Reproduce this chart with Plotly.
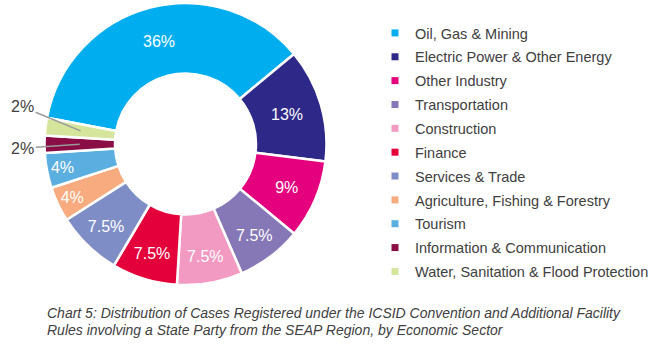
import math
import plotly.graph_objects as go

# ---- data ----
sectors = [
    "Oil, Gas & Mining",
    "Electric Power & Other Energy",
    "Other Industry",
    "Transportation",
    "Construction",
    "Finance",
    "Services & Trade",
    "Agriculture, Fishing & Forestry",
    "Tourism",
    "Information & Communication",
    "Water, Sanitation & Flood Protection",
]
shares = [36, 13, 9, 7.5, 7.5, 7.5, 7.5, 4, 4, 2, 2]
share_labels = ["36%", "13%", "9%", "7.5%", "7.5%", "7.5%", "7.5%", "4%", "4%", "2%", "2%"]
colors = [
    "#00AEEF", "#2E2888", "#E5007D", "#8677B6", "#F29AC2", "#E4003B",
    "#7F8DC7", "#F7AB7E", "#5BAEE0", "#8A0D45", "#D5E59C",
]
outside = [False] * 9 + [True, True]
caption_lines = [
    "Chart 5: Distribution of Cases Registered under the ICSID Convention and Additional Facility",
    "Rules involving a State Party from the SEAP Region, by Economic Sector",
]

FONT = "Arial, Liberation Sans, sans-serif"
W, H = 667, 347
ROT = -79.3
dom_x = [44.5 / W, 326.5 / W]
dom_y = [1 - 285 / H, 1 - 3 / H]

fig = go.Figure()
fig.add_trace(go.Pie(
    labels=sectors,
    values=shares,
    text=share_labels,
    textinfo="text",
    textposition=["none" if o else "inside" for o in outside],
    insidetextorientation="horizontal",
    insidetextfont=dict(color="white", size=16, family=FONT),
    marker=dict(colors=colors, line=dict(color="white", width=2.5)),
    hole=0.5,
    sort=False,
    direction="clockwise",
    rotation=ROT,
    showlegend=False,
    domain=dict(x=dom_x, y=dom_y),
    hoverinfo="label+percent",
))

# legend entries
for i, (s, c) in enumerate(zip(sectors, colors)):
    fig.add_trace(go.Scatter(
        x=[None], y=[None], mode="markers", name=s,
        marker=dict(symbol="square", size=7, color=c),
        legendgroup=f"g{i}", showlegend=True, hoverinfo="skip",
    ))

# leader-line labels for small slices, positioned from the data
cx = (dom_x[0] + dom_x[1]) / 2 * W
cy = (1 - (dom_y[0] + dom_y[1]) / 2) * H
R = min((dom_x[1] - dom_x[0]) * W, (dom_y[1] - dom_y[0]) * H) / 2
total = sum(shares)
cum = 0
offsets = {9: (-57, 4), 10: (-58, -24)}
annotations = []
for i, v in enumerate(shares):
    mid = cum + v / 2
    cum += v
    if not outside[i]:
        continue
    ang = math.radians(ROT % 360 + 360 * mid / total)
    r = 0.75 * R
    tx = cx + r * math.sin(ang)
    ty = cy - r * math.cos(ang)
    ax, ay = offsets[i]
    annotations.append(dict(
        x=tx / W, y=1 - ty / H, xref="paper", yref="paper",
        text=share_labels[i], showarrow=True, arrowhead=0,
        arrowwidth=1.5, arrowcolor="#9a9a9a", ax=ax, ay=ay,
        font=dict(size=16, color="#404040", family=FONT),
    ))

for k, (line, yc) in enumerate(zip(caption_lines, [313, 330])):
    annotations.append(dict(
        x=45 / W, y=1 - yc / H, xref="paper", yref="paper",
        xanchor="left", yanchor="middle", align="left", showarrow=False,
        text=f"<i>{line}</i>",
        font=dict(size=14, color="#404040", family=FONT),
    ))

fig.update_layout(
    width=W, height=H,
    margin=dict(l=0, r=0, t=0, b=0),
    paper_bgcolor="white", plot_bgcolor="white",
    xaxis=dict(visible=False), yaxis=dict(visible=False),
    legend=dict(
        x=375 / W, y=1 - 17 / H, xanchor="left", yanchor="top",
        font=dict(size=14.5, color="#404040", family=FONT),
        tracegroupgap=2, bgcolor="rgba(0,0,0,0)",
    ),
    annotations=annotations,
)

fig.write_html("out.html")
